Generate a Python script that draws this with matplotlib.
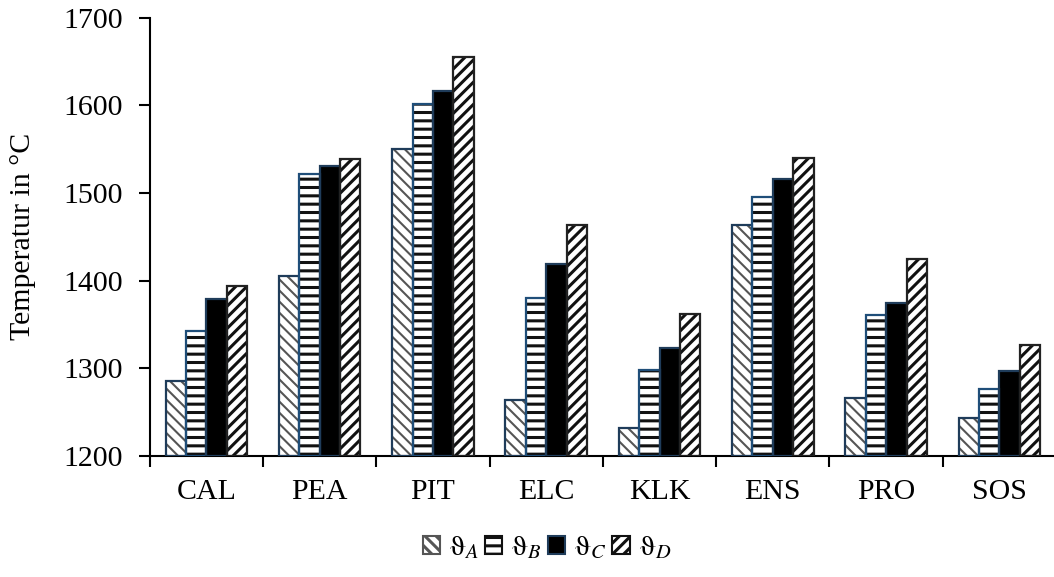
import matplotlib.pyplot as plt
import numpy as np
from matplotlib.patches import Patch

plt.rcParams['font.family'] = ['Liberation Serif', 'DejaVu Serif']
plt.rcParams['mathtext.fontset'] = 'stix'

categories = ["CAL", "PEA", "PIT", "ELC", "KLK", "ENS", "PRO", "SOS"]
theta_a = [1285, 1405, 1550, 1264, 1232, 1463, 1266, 1243]
theta_b = [1343, 1522, 1602, 1380, 1298, 1495, 1361, 1276]
theta_c = [1379, 1531, 1616, 1419, 1323, 1516, 1375, 1297]
theta_d = [1394, 1539, 1655, 1464, 1362, 1540, 1425, 1327]
labels = [r"$\mathrm{\vartheta}_A$", r"$\mathrm{\vartheta}_B$",
          r"$\mathrm{\vartheta}_C$", r"$\mathrm{\vartheta}_D$"]

# (fill, hatch, hatch colour, hatch lw, edge colour)
styles = [
    ("white", "\\\\\\", "#555555", 1.5, "#1f3c5a"),
    ("white", "--", "#111111", 2.2, "#1f4e79"),
    ("black", "", "black", 1.0, "#1f3c5a"),
    ("white", "///", "#111111", 2.2, "#222222"),
]

fig = plt.figure(figsize=(10.54, 5.77), dpi=100)
ax = fig.add_axes([0.142, 0.21, 0.86, 0.759])

x = np.arange(len(categories))
w = 0.18
handles = []
for i, (vals, (fc, hatch, hc, hlw, ec)) in enumerate(zip([theta_a, theta_b, theta_c, theta_d], styles)):
    pos = x + (i - 1.5) * w
    plt.rcParams['hatch.linewidth'] = hlw
    ax.bar(pos, np.array(vals) - 1200, w, bottom=1200, color=fc, hatch=hatch,
           edgecolor=hc, linewidth=0, zorder=2)
    ax.bar(pos, np.array(vals) - 1200, w, bottom=1200, fill=False,
           edgecolor=ec, linewidth=1.6, zorder=3)
    handles.append(Patch(facecolor=fc, hatch=hatch, edgecolor=ec if not hatch else hc,
                         linewidth=1.5))

ax.set_ylim(1200, 1700)
ax.set_yticks(np.arange(1200, 1701, 100))
ax.set_xlim(-0.5, len(categories) - 0.5)
ax.set_xticks(x)
ax.set_xticklabels(categories)
ax.set_xticks(np.arange(-0.5, len(categories)), minor=True)
ax.tick_params(axis='x', which='major', length=0, pad=17, labelsize=21.5)
ax.tick_params(axis='x', which='minor', length=8, width=1.5, direction='out')
ax.tick_params(axis='y', length=8, width=1.5, direction='out', labelsize=21.5, pad=11)
ax.spines['top'].set_visible(False)
ax.spines['right'].set_visible(False)
ax.spines['left'].set_linewidth(1.5)
ax.spines['bottom'].set_linewidth(1.5)
ax.set_ylabel("Temperatur in °C", fontsize=21.5, labelpad=20)

fig.legend(handles, labels, loc='lower center', bbox_to_anchor=(0.519, -0.018), ncol=4,
           frameon=False, fontsize=21, handlelength=0.6, handleheight=0.6,
           handletextpad=0.3, columnspacing=0.2)

fig.savefig("out.png", dpi=100)
